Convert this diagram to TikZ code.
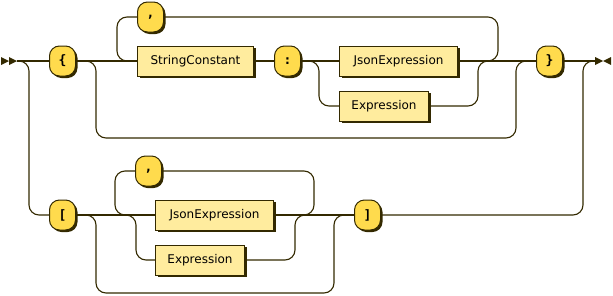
\documentclass[tikz,border=0pt]{standalone}
\usepackage{fontspec}
\setmainfont{DejaVu Sans}
\newfontfamily\rrmono{DejaVu Sans Mono}
\usetikzlibrary{positioning,shadows}
\definecolor{rrink}{HTML}{332900}
\definecolor{rrterm}{HTML}{FFDB4D}
\definecolor{rrnonterm}{HTML}{FFEC9E}
\tikzset{
  term/.style={draw=rrink, line width=1pt, fill=rrterm, rounded corners=10pt,
    minimum width=26pt, minimum height=30pt, inner sep=0pt,
    font=\rrmono\bfseries\fontsize{13pt}{15pt}\selectfont,
    drop shadow={shadow xshift=2pt, shadow yshift=-2pt, fill=rrink, opacity=1}},
  nonterm/.style={draw=rrink, line width=1pt, fill=rrnonterm,
    minimum height=30pt, inner sep=0pt,
    font=\fontsize{12pt}{14pt}\selectfont,
    drop shadow={shadow xshift=2pt, shadow yshift=-2pt, fill=rrink, opacity=1}},
  rail/.style={draw=rrink, line width=1.1pt, rounded corners=10pt},
  tip/.style={fill=rrink, draw=none},
}
\begin{document}
\begin{tikzpicture}[x=1pt, y=-1pt]
  \useasboundingbox (0,0) rectangle (613,295);
  \coordinate (start) at (17,61);
  \coordinate (endj) at (583,61);
  \coordinate (finish) at (595,61);
  % object row
  \node[term, anchor=west] (lbrace) at (49,61) {\{};
  \node[term, anchor=west] (comma1) at (137,17) {,};
  \node[nonterm, anchor=west, minimum width=116pt] (strc) at (137,61) {StringConstant};
  \node[term, right=20pt of strc] (colon) {:};
  \node[nonterm, minimum width=118pt, right=38pt of colon] (jsonT) {JsonExpression};
  \node[nonterm, minimum width=89pt, below=14pt of jsonT.south west, anchor=north west] (exprT) {Expression};
  \node[term, anchor=west] (rbrace) at (536,61) {\}};
  % array row
  \node[term, anchor=west] (lbrack) at (49,215) {[};
  \node[term, anchor=west] (comma2) at (135,171) {,};
  \node[nonterm, anchor=west, minimum width=118pt] (jsonB) at (155,215) {JsonExpression};
  \node[nonterm, minimum width=89pt, below=14pt of jsonB.south west, anchor=north west] (exprB) {Expression};
  \node[term, right=80pt of jsonB] (rbrack) {]};
  % start / end marks
  \fill[tip] (start) ++(-16,-4) -- ++(8,4) -- ++(-8,4) -- cycle;
  \fill[tip] (start) ++(-8,-4) -- ++(8,4) -- ++(-8,4) -- cycle;
  \fill[tip] (finish) ++(0,-4) -- ++(8,4) -- ++(-8,4) -- cycle;
  \fill[tip] (finish) ++(16,-4) -- ++(-8,4) -- ++(8,4) -- cycle;
  % object rails
  \draw[rail] (start) -- (lbrace.west);
  \draw[rail] (lbrace.east) -- (strc.west);
  \draw[rail] (strc.west) -- ++(-20,0) |- (comma1.west);
  \draw[rail] (comma1.east) -| ([xshift=40pt]jsonT.east) -- (jsonT.east);
  \draw[rail] (strc.east) -- (colon.west);
  \draw[rail] (colon.east) -- (jsonT.west);
  \draw[rail] (colon.east) -| ([xshift=-20pt]exprT.west) -- (exprT.west);
  \draw[rail] (exprT.east) -| ([xshift=20pt]jsonT.east) -- ++(10,0);
  \draw[rail] (jsonT.east) -- (rbrace.west);
  \draw[rail] (lbrace.east) -- ++(20,0) -- ++(0,77) -| ([xshift=-20pt]rbrace.west) -- (rbrace.west);
  \draw[rail] (rbrace.east) -- (finish);
  % array rails
  \draw[rail] (start) -- ++(12,0) |- (lbrack.west);
  \draw[rail] (lbrack.east) -- (jsonB.west);
  \draw[rail] (jsonB.west) -- ++(-40,0) |- (comma2.west);
  \draw[rail] (comma2.east) -| ([xshift=40pt]jsonB.east) -- (jsonB.east);
  \draw[rail] (lbrack.east) -| ([xshift=-19pt]exprB.west) -- (exprB.west);
  \draw[rail] (exprB.east) -| ([xshift=21pt]jsonB.east) -- ++(10,0);
  \draw[rail] (jsonB.east) -- (rbrack.west);
  \draw[rail] (lbrack.east) -- ++(20,0) -- ++(0,78) -| ([xshift=-20pt]rbrack.west) -- (rbrack.west);
  \draw[rail] (rbrack.east) -| (endj) -- (finish);
\end{tikzpicture}
\end{document}
